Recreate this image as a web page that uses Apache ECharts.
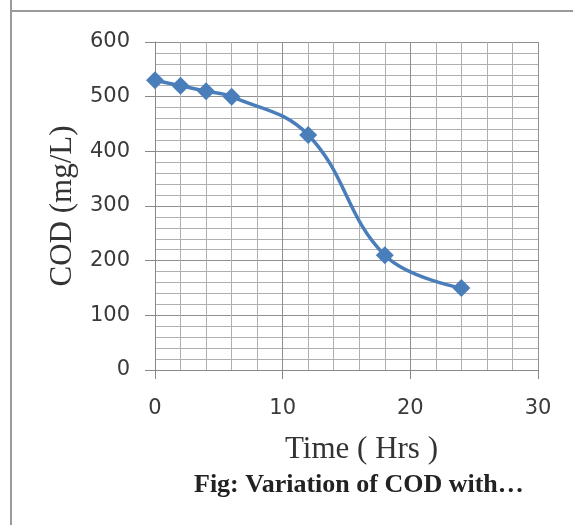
<!DOCTYPE html>
<html>
<head>
<meta charset="utf-8">
<script src="https://cdn.jsdelivr.net/npm/echarts@6/dist/echarts.min.js"></script>
<style>
  html, body { margin: 0; padding: 0; background: #fff; }
  #main { width: 573px; height: 525px; }
</style>
</head>
<body>
<div id="main"></div>
<script>
// time in hours and COD readings (mg/L)
var hours = [0, 2, 4, 6, 12, 18, 24];
var cod = [530, 520, 510, 500, 430, 210, 150];
var xTicks = [0, 10, 20, 30];
var yTicks = [0, 100, 200, 300, 400, 500, 600];

var points = hours.map(function (h, i) { return [h, cod[i]]; });

var chart = echarts.init(document.getElementById('main'));
var lineBlue = '#4a7ebb';
var gridGray = '#b0b0b0';
var labelFont = { fontFamily: 'DejaVu Sans', fontSize: 21, color: '#3a3a3a' };

var option = {
  animation: false,
  title: {
    text: 'Fig: Variation of COD with\u2026',
    left: 189,
    top: 467,
    textStyle: { fontFamily: 'Liberation Serif', fontWeight: 'bold', fontSize: 26, color: '#222' }
  },
  graphic: [
    { type: 'line', shape: { x1: 11, y1: 0, x2: 11, y2: 525 }, style: { stroke: '#9a9a9a', lineWidth: 2 } },
    { type: 'line', shape: { x1: 11, y1: 11, x2: 573, y2: 11 }, style: { stroke: '#9a9a9a', lineWidth: 2 } }
  ],
  grid: { left: 155, right: 35, top: 42, bottom: 155 },
  xAxis: {
    type: 'value',
    min: xTicks[0],
    max: xTicks[xTicks.length - 1],
    interval: 10,
    name: 'Time ( Hrs )',
    nameLocation: 'middle',
    nameGap: 64,
    nameTextStyle: { fontFamily: 'Liberation Serif', fontSize: 31, color: '#333', padding: [0, 0, 0, 30] },
    axisLine: { lineStyle: { color: '#888' } },
    axisTick: { show: true, length: 9, lineStyle: { color: '#888' } },
    axisLabel: Object.assign({ margin: 28 }, labelFont),
    splitLine: { show: true, lineStyle: { color: '#909090' } },
    minorTick: { show: true, splitNumber: 5, length: 0 },
    minorSplitLine: { show: true, lineStyle: { color: gridGray } }
  },
  yAxis: {
    type: 'value',
    min: yTicks[0],
    max: yTicks[yTicks.length - 1],
    interval: 100,
    name: 'COD (mg/L)',
    nameLocation: 'middle',
    nameGap: 77,
    nameTextStyle: { fontFamily: 'Liberation Serif', fontSize: 31, color: '#333' },
    axisLine: { show: true, lineStyle: { color: '#888' } },
    axisTick: { show: true, length: 10, lineStyle: { color: '#888' } },
    axisLabel: Object.assign({ margin: 25 }, labelFont),
    splitLine: { show: true, lineStyle: { color: '#909090' } },
    minorTick: { show: true, splitNumber: 5, length: 0 },
    minorSplitLine: { show: true, lineStyle: { color: gridGray } }
  },
  series: [{
    type: 'line',
    data: points,
    smooth: 0.4,
    symbol: 'diamond',
    symbolSize: 18,
    lineStyle: { color: lineBlue, width: 3.5 },
    itemStyle: { color: lineBlue }
  }]
};

chart.setOption(option);
</script>
</body>
</html>
